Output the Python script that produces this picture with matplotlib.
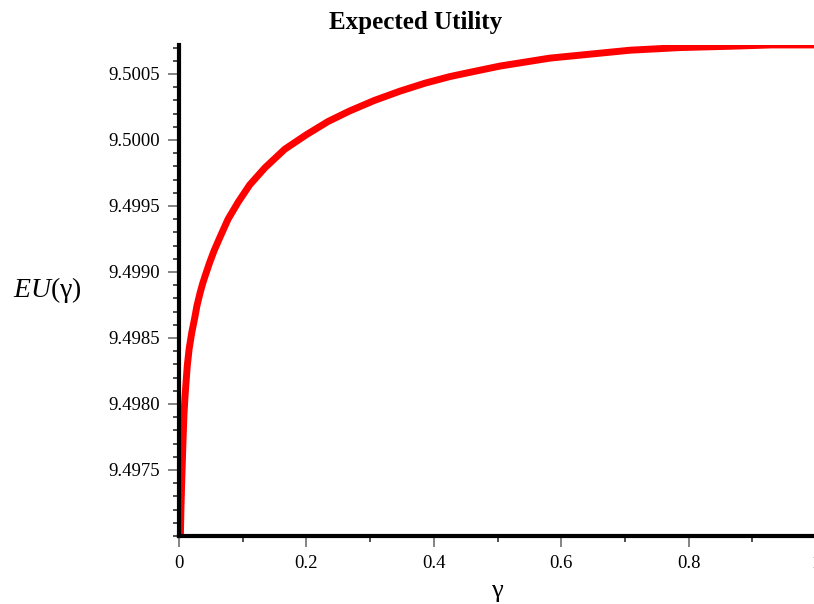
import matplotlib.pyplot as plt
from matplotlib.ticker import MultipleLocator

# values
gamma = [0.001, 0.0022, 0.003, 0.0045, 0.006, 0.0078, 0.0095, 0.011, 0.013, 0.016,
         0.020, 0.025, 0.028, 0.033, 0.037, 0.041, 0.048, 0.055, 0.064, 0.077,
         0.093, 0.111, 0.135, 0.166, 0.200, 0.234, 0.268, 0.307, 0.347, 0.386,
         0.425, 0.464, 0.504, 0.543, 0.582, 0.645, 0.708, 0.786, 0.865, 0.93, 1.0]
eu = [9.49660, 9.49700, 9.49720, 9.49745, 9.49768, 9.49792, 9.49806, 9.49816, 9.49829, 9.49842,
      9.49854, 9.49866, 9.49874, 9.49884, 9.49891, 9.49897, 9.49907, 9.49916, 9.49926, 9.49940,
      9.49953, 9.49966, 9.49979, 9.49993, 9.50004, 9.50014, 9.50022, 9.50030, 9.50037, 9.50043,
      9.50048, 9.50052, 9.50056, 9.50059, 9.50062, 9.50065, 9.50068, 9.50070, 9.50071, 9.50072,
      9.50072]

xticks = [0, 0.2, 0.4, 0.6, 0.8, 1.0]
xticklabels = ["0", "0.2", "0.4", "0.6", "0.8", "1"]
yticks = [9.4975, 9.4980, 9.4985, 9.4990, 9.4995, 9.5000, 9.5005]
yticklabels = ["9.4975", "9.4980", "9.4985", "9.4990", "9.4995", "9.5000", "9.5005"]

plt.rcParams['font.family'] = ['Liberation Serif', 'DejaVu Serif']
plt.rcParams['mathtext.fontset'] = 'custom'
plt.rcParams['mathtext.rm'] = 'Liberation Serif'
plt.rcParams['mathtext.it'] = 'Liberation Serif:italic'

fig = plt.figure(figsize=(8.14, 6.04), dpi=100)
ax = fig.add_axes([0.2199, 0.1126, 0.7826, 0.8130])

ax.plot(gamma, eu, color='#ff0000', lw=5, solid_capstyle='butt', solid_joinstyle='round')

ax.set_xlim(0, 1)
ax.set_ylim(9.4970, 9.50072)

for s in ['top', 'right']:
    ax.spines[s].set_visible(False)
for s in ['left', 'bottom']:
    ax.spines[s].set_linewidth(3)
    ax.spines[s].set_color('black')
    ax.spines[s].set_zorder(5)

ax.set_xticks(xticks)
ax.set_xticklabels(xticklabels)
ax.set_yticks(yticks)
ax.set_yticklabels(yticklabels)
ax.xaxis.set_minor_locator(MultipleLocator(0.1))
ax.yaxis.set_minor_locator(MultipleLocator(0.0001))
ax.tick_params(which='major', length=8, width=1.2, color='#707070', labelsize=13.5, pad=6)
ax.tick_params(which='minor', length=4, width=1.2, color='#303030')

fig.text(0.511, 0.962, "Expected Utility", ha='center', va='center',
         fontsize=18, fontweight='bold')
fig.text(0.058, 0.52, r"$EU(\mathrm{\gamma})$", ha='center', va='center', fontsize=20)
fig.text(0.611, 0.022, "γ", ha='center', va='center', fontsize=19)

fig.savefig("out.png", dpi=100)
